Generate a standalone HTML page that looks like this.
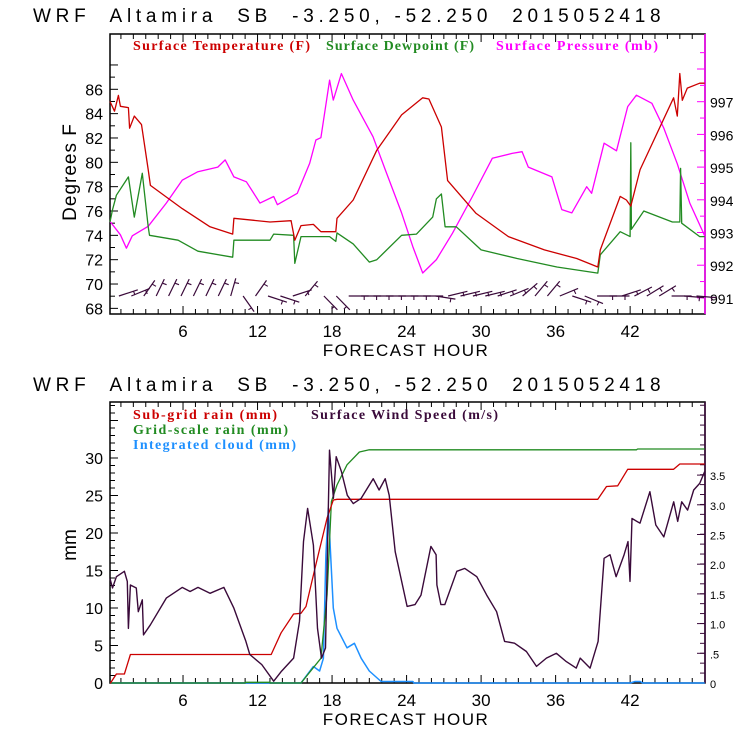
<!DOCTYPE html>
<html><head><meta charset="utf-8">
<style>
html,body{margin:0;padding:0;background:#fff;}
svg{display:block;}
text{font-family:"Liberation Sans",sans-serif;white-space:pre;}
.lg{font-family:"Liberation Serif",serif;font-weight:bold;font-size:14px;}
</style></head>
<body>
<svg id="chart" width="740" height="740" viewBox="0 0 740 740" xmlns="http://www.w3.org/2000/svg">
  <rect width="740" height="740" fill="#fff"/>
  <g id="topPanel"></g>
  <g id="botPanel"></g>
</svg>
<script>
// ---------- TOP PANEL DATA ----------
const tempHours=[0,0.48,0.8,0.96,1.6,1.7,2.08,2.66,3.2,3.37,5.93,8.17,10.0,10.1,13.0,14.7,15.0,15.5,16.5,17.1,18.3,18.4,19.7,21.6,23.6,25.3,25.8,26.8,27.3,29.6,32.2,35.1,37.7,39.4,39.6,41.2,41.7,42.05,42.8,45.5,45.8,46.0,46.2,46.6,47.6,48];
const tempVals=[85,84.2,85.5,84.6,84.5,82.8,83.8,83.1,79.4,78.1,76.2,74.7,74.1,75.4,75.1,75.2,73.6,74.8,74.9,74.3,74.3,75.4,76.9,81,83.9,85.3,85.2,82.9,78.5,75.8,73.9,72.8,72.1,71.4,72.8,77.2,76.9,76.4,79.4,85.3,83.8,87.3,85.1,86.1,86.5,86.5];
const dewHours=[0,0.32,0.64,1.6,2.08,2.72,3.2,3.3,5.6,7.2,10.0,10.1,13.0,13.3,14.9,15.0,15.5,17.8,18.3,18.4,19.7,21.0,21.6,23.6,24.8,26.1,26.4,26.8,27.1,28.0,30.0,32.9,36.1,39.4,39.6,41.2,42.0,42.05,42.1,43.1,45.4,46.0,46.06,46.15,47.6,48];
const dewVals=[75.1,76.1,77.3,78.8,75.5,79.1,74.7,74,73.6,72.7,72.2,73.6,73.6,74.1,74.0,71.7,73.9,73.9,73.5,74.2,73.3,71.8,72.0,74.0,74.1,75.5,77.0,77.4,74.7,74.7,72.8,72.1,71.4,70.9,72.4,74.3,73.9,81.6,74.5,76.0,75.1,75.1,79.5,75.0,73.9,73.9];
const presHours=[0,0.96,1.44,1.92,3.2,4.65,5.93,7.2,8.8,9.4,10.1,11.1,12.2,13.3,13.6,15.2,16.2,16.7,17.1,17.8,18.1,18.75,19.7,21.3,22.3,23.6,24.5,25.3,26.4,27.7,29.3,30.9,32.5,33.3,33.8,35.7,36.5,37.3,38.5,38.9,39.9,40.9,41.8,42.5,43.75,44.7,45.8,46.8,48];
const presVals=[993.34,992.93,992.52,992.9,993.19,993.9,994.6,994.86,995.0,995.22,994.7,994.55,993.9,994.1,993.85,994.2,995.12,995.83,995.9,997.66,997.05,997.86,997.05,995.93,994.9,993.6,992.57,991.76,992.17,992.98,994.1,995.27,995.42,995.47,995.0,994.7,993.7,993.6,994.4,994.2,995.73,995.5,996.85,997.2,996.95,996.2,995.1,993.9,992.9];
const windBarbHours=[1,2,3,4,5,6,7,8,9,10,11,12,13,14,15,16,17.5,18.5,19.5,20.5,21.5,22.5,23.5,24.5,25.5,26.5,27.5,28.5,29.5,30.5,31.5,32.5,33.5,34.5,35.5,36.5,37.5,38.5,39.5,40.5,41.5,42.5,43.5,44.5,45.5,46.5,47.5];
const windBarbAngles=[20,25,60,70,70,70,70,70,70,80,-60,60,-20,-20,20,55,-50,-50,0,0,0,0,0,0,0,-10,15,15,15,15,20,25,45,55,55,25,-20,-25,0,0,20,30,35,35,0,-5,-5];
const tempTicks=[68,70,72,74,76,78,80,82,84,86];
const presTicks=[991,992,993,994,995,996,997];
const hourTicks=[6,12,18,24,30,36,42];
// ---------- BOTTOM PANEL DATA ----------
const subHours=[0,0.16,0.64,1.28,1.76,13.1,13.9,14.9,15.5,15.9,16.7,17.6,18.1,18.4,39.4,40.1,41.0,41.8,45.5,46.0,48];
const subVals=[0,0,1.2,1.2,3.8,3.8,6.7,9.2,9.3,10.2,15.8,22,24.4,24.5,24.5,26.2,26.3,28.5,28.5,29.2,29.2];
const gridHours=[0,11,11.01,13,13.01,15.5,17.1,17.6,17.95,18.4,19.2,20.2,21.0,42.5,42.6,48];
const gridVals=[0,0,0.1,0.1,0,0,3.3,11.8,24.2,26.4,29.1,30.8,31.1,31.1,31.2,31.2];
const cloudHours=[0,15.5,16.5,17.0,17.3,17.5,17.7,18.1,18.4,19.2,19.8,20.35,21.0,21.95,24.5,24.6,42.0,42.4,42.8,43.0,48];
const cloudVals=[0,0,2.2,1.6,3.3,17.1,23.3,10,7.3,4.7,5.3,3.3,1.6,0.2,0.2,0,0,0.2,0.2,0,0];
const windHours=[0,0.32,0.64,1.28,1.51,1.6,1.76,2.24,2.4,2.72,2.82,3.37,4.65,5.93,6.57,7.21,8.17,9.29,10.1,11.06,11.38,12.34,13.3,13.94,14.9,15.38,15.7,16.03,16.5,16.83,17.15,17.47,17.79,18.11,18.33,18.75,19.23,19.71,20.35,21.31,21.79,22.28,22.6,23.08,24.04,24.68,25.16,25.96,26.38,26.44,26.76,27.08,28.04,28.69,29.65,30.45,31.25,31.89,32.69,33.65,34.46,35.26,36.06,36.86,37.66,37.98,38.78,39.42,39.9,40.38,40.87,41.51,41.83,41.99,42.15,42.79,43.59,44.07,44.71,45.51,45.83,46.15,46.63,47.12,47.6,48];
const windVals=[1.76,1.60,1.79,1.88,1.71,0.92,1.65,1.60,1.20,1.40,0.81,0.98,1.43,1.61,1.54,1.61,1.51,1.61,1.26,0.70,0.48,0.31,0.03,0.20,0.42,1.04,2.38,2.94,2.32,0.92,0.42,0.59,3.92,3.11,3.81,3.56,3.16,3.02,3.11,3.44,3.25,3.44,3.16,2.21,1.29,1.32,1.48,2.30,2.16,1.65,1.32,1.32,1.88,1.93,1.79,1.48,1.20,0.70,0.67,0.53,0.28,0.42,0.50,0.36,0.25,0.42,0.25,0.70,2.10,2.16,1.79,2.16,2.38,1.71,2.77,2.69,3.22,2.66,2.46,3.05,2.72,3.05,2.91,3.25,3.36,3.56];
const mmTicks=[0,5,10,15,20,25,30];
const windTicks=[0,0.5,1.0,1.5,2.0,2.5,3.0,3.5];
const windTickLabels=["0",".5","1.0","1.5","2.0","2.5","3.0","3.5"];

const NS="http://www.w3.org/2000/svg";
const X0=110,X1=705;
function xH(h){return 108.5+12.42*h;}
function yT(d){return 89.3+(86-d)*12.17;}
function yP(m){return 101.7+(997-m)*32.7;}
function yMM(v){return 683-v*7.5;}
function yW(v){return 683-v*59.4;}
function el(tag,attrs,parent,txt){const e=document.createElementNS(NS,tag);for(const k in attrs)e.setAttribute(k,attrs[k]);if(txt!==undefined)e.textContent=txt;parent.appendChild(e);return e;}
function pathFrom(hs,vs,yf){let d="";for(let i=0;i<hs.length;i++){const x=Math.max(X0,Math.min(X1,xH(hs[i])));d+=(i?"L":"M")+x.toFixed(1)+","+yf(vs[i]).toFixed(1);}return d;}

const topG=document.getElementById('topPanel'), botG=document.getElementById('botPanel');

function frame(g,y0,y1,rightColor,rightName){
  const f=el('rect',{x:X0,y:y0,width:X1-X0,height:y1-y0,fill:'none',stroke:'#000','stroke-width':1.5},g);
  
  
  const r=el('line',{x1:X1,y1:y0,x2:X1,y2:y1,stroke:rightColor,'stroke-width':1.5},g);
  
  
  for(let h=1;h<48;h++){
    const L=(h%6===0)?8:5;
    const t1=el('line',{x1:xH(h),y1:y1,x2:xH(h),y2:y1-L,stroke:'#000','stroke-width':1},g);
    
    
    el('line',{x1:xH(h),y1:y0,x2:xH(h),y2:y0+L,stroke:'#000','stroke-width':1},g);
  }
  hourTicks.forEach(h=>{
    const t=el('text',{x:xH(h),y:y1+23,'text-anchor':'middle','font-size':17},g,String(h));
    
    
  });
  const xt=el('text',{x:406,y:y1+42,'text-anchor':'middle','font-size':17,'letter-spacing':'1.5'},g,'FORECAST HOUR');
  
  
}
function title(g,y){
  const t=el('text',{x:33,y:y,'font-size':19,'letter-spacing':'2.4',textLength:'630'},g,'WRF  Altamira  SB  -3.250, -52.250  2015052418');
  
  
}
function series(g,d,color,name,w){
  const p=el('path',{d:d,fill:'none',stroke:color,'stroke-width':w||1.3,'stroke-linejoin':'round'},g);
  
  
}
function legend(g,x,y,color,txt,name,len){
  const t=el('text',{x:x,y:y,fill:color,'class':'lg',textLength:len,lengthAdjust:'spacing'},g,txt);
  
  
}

// ===== TOP =====
title(topG,22);
frame(topG,34,314,'#ff00ff','right-axis-line');
for(let d=68;d<=88;d++){
  const L=(d%2===0)?8:5;
  el('line',{x1:X0,y1:yT(d),x2:X0+L,y2:yT(d),stroke:'#000'},topG);
}
tempTicks.forEach(d=>{
  const t=el('text',{x:103,y:yT(d)+6,'text-anchor':'end','font-size':16},topG,String(d));
  
  
});
for(let m=990.5;m<=998.5;m+=0.5){
  const y=yP(m); if(y<34||y>314) continue;
  const L=(m%1===0)?8:5;
  el('line',{x1:X1,y1:y,x2:X1-L,y2:y,stroke:'#ff00ff'},topG);
}
presTicks.forEach(m=>{
  const t=el('text',{x:710,y:yP(m)+6,'font-size':14},topG,String(m));
  
  
});
const yt=el('text',{x:0,y:0,'font-size':19,'text-anchor':'middle','letter-spacing':'1',transform:'translate(76,172) rotate(-90)'},topG,'Degrees F');


legend(topG,133,50,'#cc0000','Surface Temperature (F)','legend-temperature',177);
legend(topG,326,50,'#228b22','Surface Dewpoint (F)','legend-dewpoint',148);
legend(topG,496,50,'#ff00ff','Surface Pressure (mb)','legend-pressure',162);
series(topG,pathFrom(presHours,presVals,yP),'#ff00ff','pressure-line');
series(topG,pathFrom(dewHours,dewVals,yT),'#228b22','dewpoint-line');
series(topG,pathFrom(tempHours,tempVals,yT),'#cc0000','temperature-line');
windBarbHours.forEach((h,i)=>{
  const a=windBarbAngles[i]*Math.PI/180, x=xH(h), y=296, L=18;
  const x2=x+L*Math.cos(a), y2=y-L*Math.sin(a);
  const b=el('line',{x1:(x-2).toFixed(1),y1:y,x2:x2.toFixed(1),y2:y2.toFixed(1),stroke:'#3a0a3a','stroke-width':1.2},topG);
  
  
  const bx=x+0.75*L*Math.cos(a), by=y-0.75*L*Math.sin(a);
  el('line',{x1:bx.toFixed(1),y1:by.toFixed(1),x2:(bx+4*Math.sin(a)).toFixed(1),y2:(by+4*Math.cos(a)).toFixed(1),stroke:'#3a0a3a','stroke-width':1.1},topG);
});

// ===== BOTTOM =====
title(botG,391);
frame(botG,402,683,'#3a0a3a','right-axis-line');
for(let v=0;v<=37;v++){
  const L=(v%5===0)?8:5;
  el('line',{x1:X0,y1:yMM(v),x2:X0+L,y2:yMM(v),stroke:'#000'},botG);
}
mmTicks.forEach(v=>{
  const t=el('text',{x:103,y:yMM(v)+6,'text-anchor':'end','font-size':16},botG,String(v));
  
  
});
for(let k=0;k<=28;k++){
  const v=k*0.167; const y=yW(v); if(y<402) continue;
  el('line',{x1:X1,y1:y,x2:X1-5,y2:y,stroke:'#3a0a3a'},botG);
}
windTicks.forEach((v,i)=>{
  el('line',{x1:X1,y1:yW(v),x2:X1-8,y2:yW(v),stroke:'#3a0a3a'},botG);
  const t=el('text',{x:710,y:yW(v)+5,'font-size':11},botG,windTickLabels[i]);
  
  
});
const yt2=el('text',{x:0,y:0,'font-size':19,'text-anchor':'middle',transform:'translate(76,545) rotate(-90)'},botG,'mm');


legend(botG,133,419,'#cc0000','Sub-grid rain (mm)','legend-subgrid-rain',144);
legend(botG,311,419,'#3a0a3a','Surface Wind Speed (m/s)','legend-wind-speed',187);
legend(botG,133,434,'#228b22','Grid-scale rain (mm)','legend-grid-rain',155);
legend(botG,133,449,'#1e90ff','Integrated cloud (mm)','legend-cloud',163);
series(botG,pathFrom(cloudHours,cloudVals,yMM),'#1e90ff','cloud-line',1.5);
series(botG,pathFrom(gridHours,gridVals,yMM),'#228b22','grid-rain-line');
series(botG,pathFrom(subHours,subVals,yMM),'#cc0000','subgrid-rain-line');
series(botG,pathFrom(windHours,windVals,yW),'#3a0a3a','wind-speed-line',1.4);
</script>
</body></html>
